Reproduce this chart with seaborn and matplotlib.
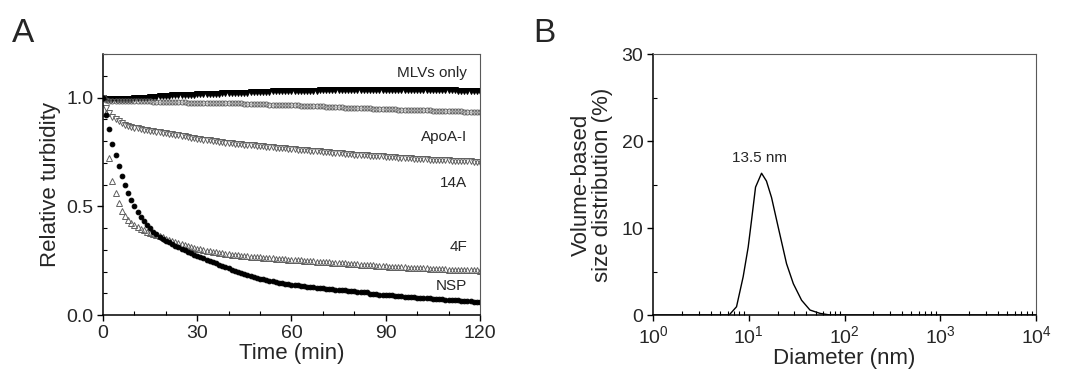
import numpy as np
import pandas as pd
import matplotlib
matplotlib.use("Agg")
import matplotlib.pyplot as plt
import seaborn as sns
from matplotlib.ticker import MultipleLocator, LogLocator, NullFormatter

sns.set_theme(style="ticks")
plt.rcParams['font.family'] = ['Liberation Sans', 'DejaVu Sans']
plt.rcParams['mathtext.fontset'] = 'custom'
plt.rcParams['mathtext.rm'] = 'Liberation Sans'
plt.rcParams['mathtext.it'] = 'Liberation Sans:italic'
plt.rcParams['mathtext.bf'] = 'Liberation Sans:bold'

# ---------------- Panel A data (time in min, one reading per minute) ----------------
time_min = list(range(0, 121))

mlvs_only = [
    1.000, 0.995, 0.993, 0.992, 0.992, 0.992, 0.993, 0.993, 0.994, 0.995,
    0.996, 0.997, 0.998, 0.999, 1.000, 1.002, 1.003, 1.004, 1.005, 1.007,
    1.008, 1.009, 1.010, 1.010, 1.011, 1.012, 1.012, 1.013, 1.014, 1.014,
    1.015, 1.015, 1.016, 1.016, 1.017, 1.017, 1.018, 1.018, 1.019, 1.019,
    1.020, 1.020, 1.021, 1.021, 1.022, 1.023, 1.023, 1.024, 1.025, 1.025,
    1.026, 1.026, 1.027, 1.027, 1.028, 1.028, 1.029, 1.029, 1.029, 1.030,
    1.030, 1.030, 1.031, 1.031, 1.031, 1.032, 1.032, 1.032, 1.032, 1.033,
    1.033, 1.033, 1.033, 1.034, 1.034, 1.034, 1.034, 1.034, 1.035, 1.035,
    1.035, 1.035, 1.035, 1.035, 1.035, 1.035, 1.035, 1.035, 1.035, 1.035,
    1.035, 1.035, 1.035, 1.035, 1.035, 1.035, 1.035, 1.035, 1.035, 1.035,
    1.035, 1.034, 1.034, 1.034, 1.034, 1.034, 1.033, 1.033, 1.033, 1.033,
    1.033, 1.033, 1.033, 1.032, 1.032, 1.032, 1.032, 1.032, 1.032, 1.032, 1.032]

apoa1 = [
    1.000, 0.988, 0.986, 0.985, 0.985, 0.985, 0.985, 0.984, 0.984, 0.984,
    0.983, 0.983, 0.983, 0.982, 0.982, 0.982, 0.981, 0.981, 0.980, 0.980,
    0.979, 0.979, 0.979, 0.978, 0.978, 0.978, 0.978, 0.977, 0.977, 0.977,
    0.977, 0.976, 0.976, 0.976, 0.976, 0.975, 0.975, 0.975, 0.975, 0.974,
    0.974, 0.974, 0.973, 0.973, 0.973, 0.972, 0.972, 0.971, 0.971, 0.970,
    0.970, 0.969, 0.969, 0.968, 0.968, 0.967, 0.967, 0.966, 0.966, 0.965,
    0.965, 0.964, 0.964, 0.963, 0.962, 0.962, 0.961, 0.961, 0.960, 0.959,
    0.959, 0.958, 0.958, 0.957, 0.956, 0.956, 0.955, 0.954, 0.954, 0.953,
    0.952, 0.952, 0.951, 0.951, 0.950, 0.950, 0.949, 0.949, 0.948, 0.948,
    0.947, 0.947, 0.946, 0.946, 0.945, 0.945, 0.945, 0.944, 0.944, 0.943,
    0.943, 0.942, 0.942, 0.941, 0.941, 0.940, 0.940, 0.939, 0.939, 0.938,
    0.938, 0.937, 0.937, 0.936, 0.936, 0.935, 0.935, 0.934, 0.934, 0.933, 0.933]

pep_14a = [
    1.000, 0.951, 0.928, 0.912, 0.900, 0.890, 0.882, 0.876, 0.871, 0.866,
    0.862, 0.859, 0.856, 0.853, 0.850, 0.848, 0.845, 0.843, 0.840, 0.838,
    0.836, 0.833, 0.831, 0.828, 0.826, 0.823, 0.821, 0.818, 0.816, 0.813,
    0.811, 0.809, 0.807, 0.805, 0.803, 0.801, 0.799, 0.797, 0.795, 0.793,
    0.791, 0.790, 0.788, 0.787, 0.786, 0.784, 0.783, 0.781, 0.780, 0.778,
    0.777, 0.776, 0.774, 0.773, 0.772, 0.770, 0.769, 0.768, 0.766, 0.765,
    0.764, 0.763, 0.761, 0.760, 0.759, 0.757, 0.756, 0.755, 0.753, 0.752,
    0.751, 0.750, 0.748, 0.747, 0.746, 0.745, 0.743, 0.742, 0.741, 0.740,
    0.738, 0.737, 0.736, 0.735, 0.734, 0.733, 0.732, 0.731, 0.730, 0.729,
    0.728, 0.727, 0.726, 0.725, 0.724, 0.723, 0.722, 0.721, 0.720, 0.719,
    0.718, 0.717, 0.717, 0.716, 0.715, 0.714, 0.714, 0.713, 0.712, 0.711,
    0.711, 0.710, 0.709, 0.709, 0.708, 0.707, 0.707, 0.706, 0.705, 0.705, 0.704]

pep_4f = [
    1.000, 0.930, 0.724, 0.617, 0.560, 0.514, 0.479, 0.456, 0.437, 0.422,
    0.412, 0.403, 0.395, 0.389, 0.383, 0.377, 0.372, 0.366, 0.362, 0.357,
    0.350, 0.345, 0.341, 0.337, 0.333, 0.328, 0.324, 0.319, 0.314, 0.309,
    0.305, 0.302, 0.299, 0.296, 0.293, 0.291, 0.288, 0.286, 0.284, 0.282,
    0.280, 0.278, 0.276, 0.275, 0.273, 0.272, 0.270, 0.269, 0.267, 0.266,
    0.265, 0.264, 0.262, 0.261, 0.260, 0.259, 0.258, 0.257, 0.256, 0.255,
    0.254, 0.253, 0.252, 0.251, 0.250, 0.249, 0.248, 0.247, 0.246, 0.245,
    0.244, 0.243, 0.242, 0.241, 0.240, 0.239, 0.238, 0.237, 0.236, 0.235,
    0.234, 0.233, 0.232, 0.231, 0.230, 0.229, 0.228, 0.227, 0.226, 0.225,
    0.224, 0.223, 0.222, 0.221, 0.221, 0.220, 0.219, 0.218, 0.218, 0.217,
    0.216, 0.215, 0.215, 0.214, 0.213, 0.213, 0.212, 0.211, 0.211, 0.210,
    0.209, 0.209, 0.208, 0.208, 0.207, 0.207, 0.206, 0.206, 0.205, 0.205, 0.204]

nsp = [
    1.000, 0.920, 0.855, 0.788, 0.734, 0.685, 0.641, 0.600, 0.562, 0.530,
    0.500, 0.474, 0.452, 0.432, 0.414, 0.398, 0.384, 0.372, 0.361, 0.351,
    0.342, 0.334, 0.326, 0.318, 0.311, 0.304, 0.297, 0.290, 0.284, 0.277,
    0.270, 0.266, 0.260, 0.254, 0.248, 0.242, 0.237, 0.231, 0.226, 0.221,
    0.215, 0.209, 0.204, 0.199, 0.194, 0.189, 0.184, 0.180, 0.175, 0.171,
    0.167, 0.164, 0.161, 0.158, 0.155, 0.152, 0.149, 0.147, 0.144, 0.142,
    0.140, 0.138, 0.136, 0.134, 0.132, 0.130, 0.129, 0.127, 0.125, 0.124,
    0.122, 0.121, 0.119, 0.118, 0.117, 0.115, 0.114, 0.113, 0.112, 0.110,
    0.109, 0.108, 0.107, 0.106, 0.105, 0.097, 0.096, 0.095, 0.094, 0.093,
    0.092, 0.091, 0.090, 0.088, 0.087, 0.086, 0.085, 0.084, 0.082, 0.081,
    0.080, 0.079, 0.078, 0.077, 0.076, 0.075, 0.074, 0.073, 0.072, 0.071,
    0.070, 0.069, 0.068, 0.067, 0.066, 0.065, 0.064, 0.063, 0.062, 0.060, 0.058]

series_names = ["MLVs only", "ApoA-I", "14A", "4F", "NSP"]
series_values = [mlvs_only, apoa1, pep_14a, pep_4f, nsp]
label_y = [1.115, 0.82, 0.609, 0.314, 0.133]

# ---------------- Panel B data ----------------
diameter_nm = [1.0, 6.24, 7.45, 8.74, 9.86, 10.69, 11.77, 13.6, 15.3, 17.3,
               20.3, 24.8, 29.2, 35.6, 43.6, 55.4, 70.5, 10000.0]
volume_pct = [0.0, 0.0, 0.95, 4.4, 7.8, 10.9, 14.7, 16.3, 15.4, 13.5,
              10.1, 5.9, 3.6, 1.7, 0.57, 0.19, 0.0, 0.0]
peak_label = "13.5 nm"

# ---------------- Figure ----------------
fig = plt.figure(figsize=(10.67, 3.76), dpi=100)
axA = fig.add_axes([0.0965, 0.1622, 0.3533, 0.694])
axB = fig.add_axes([0.612, 0.1622, 0.359, 0.694])

styles = [
    dict(marker="v", markersize=3.8, markerfacecolor="black", markeredgecolor="black", color="black"),
    dict(marker="o", markersize=3.6, markerfacecolor="none", markeredgecolor="0.38", color="0.38"),
    dict(marker="v", markersize=4.0, markerfacecolor="none", markeredgecolor="0.38", color="0.38"),
    dict(marker="^", markersize=4.0, markerfacecolor="none", markeredgecolor="0.38", color="0.38"),
    dict(marker="o", markersize=3.4, markerfacecolor="black", markeredgecolor="black", color="black"),
]
for name, vals, st in zip(series_names, series_values, styles):
    df = pd.DataFrame({"t": time_min, "v": vals})
    sns.lineplot(data=df, x="t", y="v", ax=axA, linestyle="", markeredgewidth=0.7,
                 legend=False, **st)

for name, yv in zip(series_names, label_y):
    axA.text(116, yv, name, ha="right", va="center", fontsize=11)

axA.set_xlim(0, 120)
axA.set_ylim(0, 1.2)
axA.xaxis.set_major_locator(MultipleLocator(30))
axA.xaxis.set_minor_locator(MultipleLocator(10))
axA.yaxis.set_major_locator(MultipleLocator(0.5))
axA.yaxis.set_minor_locator(MultipleLocator(0.1))
axA.set_yticks([0.0, 0.5, 1.0])
axA.set_yticklabels(["0.0", "0.5", "1.0"])
axA.set_xlabel("Time (min)", fontsize=16, labelpad=1)
axA.set_ylabel("Relative turbidity", fontsize=16, labelpad=4)

dfB = pd.DataFrame({"d": diameter_nm, "v": volume_pct})
sns.lineplot(data=dfB, x="d", y="v", ax=axB, color="black", linewidth=1.0, legend=False)
axB.set_xscale("log")
axB.set_xlim(1, 1e4)
axB.set_ylim(0, 30)
axB.yaxis.set_major_locator(MultipleLocator(10))
axB.yaxis.set_minor_locator(MultipleLocator(5))
axB.xaxis.set_major_locator(LogLocator(base=10, numticks=10))
axB.xaxis.set_minor_locator(LogLocator(base=10, subs=np.arange(2, 10), numticks=20))
axB.xaxis.set_minor_formatter(NullFormatter())
axB.text(13.0, 18.0, peak_label, ha="center", va="center", fontsize=11)
axB.set_xlabel("Diameter (nm)", fontsize=16, labelpad=1)
axB.set_ylabel("Volume-based\nsize distribution (%)", fontsize=16, labelpad=6, linespacing=1.0)

for ax in (axA, axB):
    ax.tick_params(which="major", direction="out", length=4, width=1.0, labelsize=14,
                   color="black", pad=3)
    ax.tick_params(which="minor", direction="in", length=3, width=0.8, color="black")
    ax.tick_params(top=False, right=False, which="both")
    for sp in ("bottom", "left"):
        ax.spines[sp].set_color("black")
        ax.spines[sp].set_linewidth(1.1)
    for sp in ("top", "right"):
        ax.spines[sp].set_color("0.35")
        ax.spines[sp].set_linewidth(0.8)
    ax.set_facecolor("white")

fig.text(0.011, 0.888, "A", fontsize=24, va="baseline", ha="left")
fig.text(0.4995, 0.888, "B", fontsize=24, va="baseline", ha="left")

fig.savefig("out.png", dpi=100, facecolor="white")
